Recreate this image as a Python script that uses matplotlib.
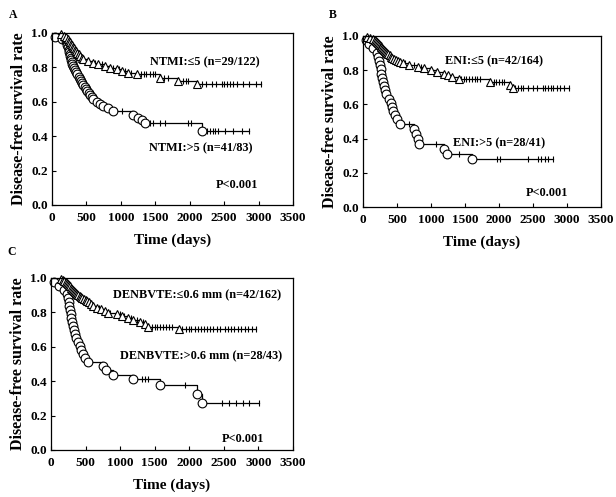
import numpy as np
import matplotlib
matplotlib.use("Agg")
import matplotlib.pyplot as plt

plt.rcParams['font.family'] = ['Liberation Serif', 'DejaVu Serif']
plt.rcParams['font.weight'] = 'bold'

# ---- Panel A: NTMI ----
a_hi_t = [44, 140, 205, 215, 225, 232, 240, 248, 255, 262, 270, 278, 286, 294, 310, 325, 340, 355, 370,
          385, 400, 420, 440, 455, 475, 495, 515, 535, 555, 580, 600, 650, 700, 745, 813, 885, 1180, 1250,
          1300, 1350, 2180]
a_hi_s = [0.976, 0.964, 0.952, 0.940, 0.928, 0.916, 0.904, 0.892, 0.880, 0.868, 0.855, 0.843, 0.831, 0.819,
          0.807, 0.795, 0.783, 0.771, 0.759, 0.747, 0.735, 0.723, 0.711, 0.699, 0.687, 0.675, 0.663, 0.651,
          0.639, 0.627, 0.614, 0.601, 0.588, 0.575, 0.562, 0.549, 0.522, 0.508, 0.493, 0.477, 0.432]
a_hi_c = [1010, 1420, 1467, 1568, 1640, 1975, 2014, 2250, 2294, 2338, 2367, 2410, 2512, 2628, 2759, 2860]

a_lo_t = [130, 180, 210, 230, 250, 265, 280, 295, 310, 325, 340, 355, 370, 390, 410, 430, 455, 527, 600,
          673, 770, 842, 939, 1010, 1108, 1229, 1568, 1834, 2100]
a_lo_s = [0.992, 0.983, 0.974, 0.965, 0.956, 0.947, 0.938, 0.929, 0.920, 0.911, 0.902, 0.893, 0.884, 0.875,
          0.866, 0.857, 0.847, 0.837, 0.828, 0.818, 0.808, 0.798, 0.788, 0.778, 0.769, 0.759, 0.737, 0.722,
          0.703]
a_lo_c = [620, 720, 880, 980, 1060, 1150, 1290, 1330, 1370, 1420, 1470, 1500, 1620, 1680, 1900, 1940, 1980,
          2180, 2230, 2330, 2380, 2470, 2500, 2540, 2580, 2630, 2690, 2770, 2860, 2960, 3040]

# ---- Panel B: ENI ----
b_hi_t = [40, 90, 140, 200, 225, 240, 252, 262, 272, 283, 293, 305, 320, 343, 380, 405, 425, 445, 470, 495,
          537, 755, 779, 803, 827, 1190, 1240, 1602]
b_hi_s = [0.976, 0.951, 0.927, 0.902, 0.878, 0.854, 0.829, 0.805, 0.780, 0.756, 0.732, 0.707, 0.683, 0.659,
          0.634, 0.610, 0.585, 0.561, 0.537, 0.512, 0.488, 0.458, 0.428, 0.398, 0.368, 0.340, 0.310, 0.279]
b_hi_c = [682, 1070, 1408, 1965, 2014, 2425, 2570, 2620, 2670, 2720, 2790]

b_lo_t = [60, 110, 150, 174, 190, 205, 220, 232, 245, 258, 270, 283, 296, 310, 325, 340, 355, 372, 390, 410,
          430, 455, 480, 510, 540, 585, 682, 803, 900, 997, 1094, 1191, 1250, 1312, 1408, 1869, 2159, 2207]
b_lo_s = [0.994, 0.988, 0.982, 0.976, 0.970, 0.964, 0.958, 0.952, 0.946, 0.940, 0.934, 0.928, 0.922, 0.916,
          0.910, 0.904, 0.898, 0.892, 0.886, 0.880, 0.874, 0.868, 0.862, 0.856, 0.850, 0.843, 0.830, 0.820,
          0.810, 0.800, 0.790, 0.780, 0.770, 0.760, 0.748, 0.732, 0.714, 0.696]
b_lo_c = [620, 750, 850, 1440, 1480, 1520, 1560, 1600, 1640, 1680, 1720, 1920, 1960, 2000, 2040, 2080, 2240,
          2280, 2320, 2360, 2420, 2500, 2560, 2640, 2680, 2720, 2760, 2800, 2850, 2900, 2960, 3030]

# ---- Panel C: DENBVTE ----
c_hi_t = [49, 122, 194, 230, 243, 255, 265, 275, 285, 295, 305, 316, 328, 340, 365, 389, 413, 437, 462, 486,
          535, 753, 802, 899, 1191, 1580, 2115, 2178]
c_hi_s = [0.977, 0.953, 0.930, 0.907, 0.884, 0.860, 0.837, 0.814, 0.791, 0.767, 0.744, 0.721, 0.698, 0.674,
          0.651, 0.628, 0.605, 0.581, 0.558, 0.535, 0.512, 0.488, 0.463, 0.438, 0.413, 0.376, 0.327, 0.273]
c_hi_c = [1312, 1360, 1410, 1944, 2479, 2576, 2674, 2771, 2868, 3014]

c_lo_t = [146, 175, 195, 210, 225, 240, 255, 270, 285, 300, 315, 330, 345, 360, 378, 396, 415, 435, 455, 475,
          500, 525, 550, 580, 608, 660, 729, 780, 826, 948, 1021, 1118, 1191, 1288, 1361, 1410, 1847]
c_lo_s = [0.994, 0.988, 0.982, 0.975, 0.969, 0.963, 0.957, 0.951, 0.944, 0.938, 0.932, 0.926, 0.920, 0.914,
          0.907, 0.901, 0.895, 0.889, 0.883, 0.877, 0.870, 0.864, 0.858, 0.850, 0.838, 0.828, 0.818, 0.808,
          0.798, 0.789, 0.779, 0.768, 0.757, 0.744, 0.731, 0.718, 0.705]
c_lo_c = [700, 860, 1000, 1060, 1150, 1240, 1330, 1460, 1500, 1540, 1580, 1620, 1660, 1700, 1750, 1900, 1950,
          1990, 2030, 2080, 2120, 2170, 2220, 2260, 2300, 2350, 2400, 2450, 2520, 2560, 2600, 2650, 2700,
          2750, 2800, 2850, 2900, 2965]

W, H = 616, 497


def px_box(left, top, right, bottom):
    return [left / W, 1 - bottom / H, (right - left) / W, (bottom - top) / H]


panels = [
    dict(letter="A", lxy=(13, 15), box=px_box(52, 33, 293, 205),
         curves=[(a_hi_t, a_hi_s, a_hi_c, 'o'), (a_lo_t, a_lo_s, a_lo_c, '^')],
         texts=[("NTMI:≤5 (n=29/122)", 2222, 0.83), ("NTMI:>5 (n=41/83)", 2163, 0.33), ("P<0.001", 2686, 0.116)]),
    dict(letter="B", lxy=(333, 15), box=px_box(363, 36, 601, 207),
         curves=[(b_hi_t, b_hi_s, b_hi_c, 'o'), (b_lo_t, b_lo_s, b_lo_c, '^')],
         texts=[("ENI:≤5 (n=42/164)", 1931, 0.85), ("ENI:>5 (n=28/41)", 2004, 0.375), ("P<0.001", 2700, 0.08)]),
    dict(letter="C", lxy=(12, 252), box=px_box(51, 278, 293, 450),
         curves=[(c_hi_t, c_hi_s, c_hi_c, 'o'), (c_lo_t, c_lo_s, c_lo_c, '^')],
         texts=[("DENBVTE:≤0.6 mm (n=42/162)", 2117, 0.90), ("DENBVTE:>0.6 mm (n=28/43)", 2167, 0.547),
                ("P<0.001", 2780, 0.065)]),
]

fig = plt.figure(figsize=(W / 100, H / 100), dpi=100)

for p in panels:
    ax = fig.add_axes(p["box"])
    for t, s, cens, mk in p["curves"]:
        t = np.array(t)
        s = np.array(s)
        end = max(cens)
        ax.step(np.r_[0, t, end], np.r_[1.0, s, s[-1]], where='post', color='black', lw=0.9)
        idx = np.searchsorted(t, cens, side='right') - 1
        cy = np.where(idx >= 0, s[np.clip(idx, 0, None)], 1.0)
        ax.plot(cens, cy, ls='none', marker='|', ms=5, mew=0.8, color='black')
        ax.plot(t, s, ls='none', marker=mk, ms=6.3 if mk == 'o' else 5.8, mfc='white', mec='black',
                mew=0.8, clip_on=False)
    for txt, x, y in p["texts"]:
        ax.text(x, y, txt, ha='center', va='center', fontsize=8.8, fontweight='bold')
    ax.set_xlim(0, 3500)
    ax.set_ylim(0, 1.0)
    ax.set_xticks(np.arange(0, 3501, 500))
    ax.set_yticks(np.arange(0, 1.01, 0.2))
    ax.set_yticklabels(["0.0", "0.2", "0.4", "0.6", "0.8", "1.0"])
    ax.tick_params(direction='in', length=3, labelsize=9.5)
    ax.tick_params(axis='x', pad=5)
    ax.tick_params(axis='y', pad=3)
    for lab in ax.get_xticklabels() + ax.get_yticklabels():
        lab.set_fontweight('bold')
    ax.set_xlabel("Time (days)", fontsize=11, fontweight='bold', labelpad=7)
    ax.set_ylabel("Disease-free survival rate", fontsize=11.5, fontweight='bold', labelpad=3)
    for sp in ax.spines.values():
        sp.set_linewidth(0.9)
    fig.text(p["lxy"][0] / W, 1 - p["lxy"][1] / H, p["letter"], ha='center', va='center',
             fontsize=8.5, fontweight='bold')

fig.savefig("out.png", dpi=100, facecolor='white')
